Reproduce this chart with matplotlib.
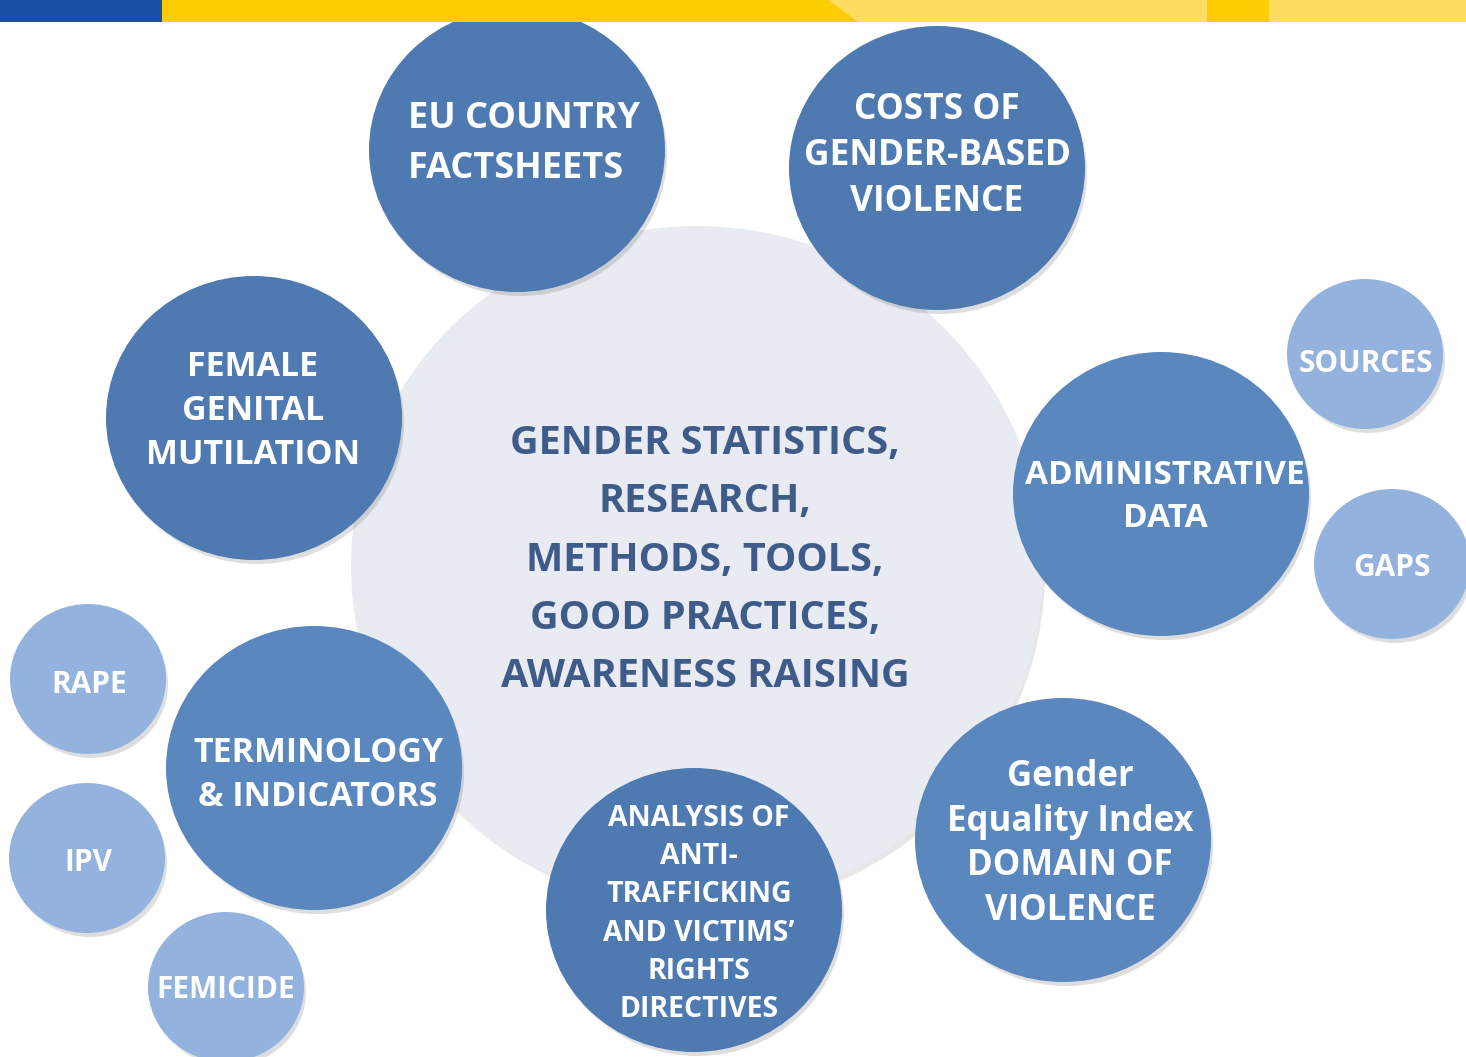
"""Bubble diagram: gender statistics topics around a central theme."""

import matplotlib.pyplot as plt
from matplotlib.patches import Ellipse, Polygon, Rectangle

W, H = 1466, 1057

# central theme
CENTER_LABEL = "GENDER STATISTICS,\nRESEARCH,\nMETHODS, TOOLS,\nGOOD PRACTICES,\nAWARENESS RAISING"

# main topic bubbles
MAIN_LABELS = [
    "EU COUNTRY\nFACTSHEETS",
    "COSTS OF\nGENDER-BASED\nVIOLENCE",
    "FEMALE\nGENITAL\nMUTILATION",
    "ADMINISTRATIVE\nDATA",
    "TERMINOLOGY\n& INDICATORS",
    "ANALYSIS OF\nANTI-\nTRAFFICKING\nAND VICTIMS\u2019\nRIGHTS\nDIRECTIVES",
    "Gender\nEquality Index\nDOMAIN OF\nVIOLENCE",
]

# satellite bubbles
SMALL_LABELS = ["SOURCES", "GAPS", "RAPE", "IPV", "FEMICIDE"]

# layout (pixel coordinates, y downwards)
CENTER_XY, CENTER_R = (697, 566), (346, 340)
MAIN_XY = [(517, 150), (937, 168), (254, 418), (1161, 494), (314, 768), (694, 910), (1063, 840)]
MAIN_TEXT_XY = [(408, 144), (937, 156), (253, 411), (1165, 497), (318, 775), (699, 914), (1070, 844)]
MAIN_HA = ["left", "center", "center", "center", "center", "center", "center"]
MAIN_FS = [26, 25.5, 24.5, 24, 24.5, 20.5, 25]
MAIN_LS = [1.55, 1.38, 1.4, 1.37, 1.4, 1.42, 1.33]
MAIN_COLORS = ["#4e79b1", "#4e79b1", "#4e79b1", "#5a87be", "#5a87be", "#4e79b1", "#5a87be"]
MAIN_R = (148, 142)
SMALL_XY = [(1365, 354), (1392, 564), (88, 679), (87, 858), (226, 987)]
SMALL_TEXT_XY = [(1366, 364), (1392, 568), (89, 685), (88, 863), (226, 990)]
SMALL_R = (78, 75)
SMALL_FS = 21.5

DARK_TEXT = "#3f5b8a"
LIGHT = "#93b3de"
CENTER_FILL = "#e8ecf2"
FONT = "Open Sans"


def bubble(ax, xy, r, color, shadow=0.22):
    cx, cy = xy
    for k, a in enumerate((0.05, 0.06, 0.07)):
        ax.add_patch(Ellipse((cx + 2 + k, cy + 4 + k), 2 * r[0] - 2 * k, 2 * r[1] - 2 * k,
                             facecolor="#404040", edgecolor="none", alpha=a * shadow / 0.22))
    ax.add_patch(Ellipse((cx, cy), 2 * r[0], 2 * r[1], facecolor=color, edgecolor="none"))


fig = plt.figure(figsize=(W / 100, H / 100), dpi=100)
ax = fig.add_axes([0, 0, 1, 1])
ax.set_xlim(0, W)
ax.set_ylim(H, 0)
ax.axis("off")

# central circle
bubble(ax, CENTER_XY, CENTER_R, CENTER_FILL, shadow=0.15)
ax.text(CENTER_XY[0] + 8, 560, CENTER_LABEL, ha="center", va="center", fontsize=28.5,
        fontweight="bold", color=DARK_TEXT, family=FONT, linespacing=1.64)

for label, xy, txy, ha, fs, ls, color in zip(MAIN_LABELS, MAIN_XY, MAIN_TEXT_XY, MAIN_HA,
                                             MAIN_FS, MAIN_LS, MAIN_COLORS):
    bubble(ax, xy, MAIN_R, color)
    ax.text(*txy, label, ha=ha, va="center", multialignment=ha, fontsize=fs, fontweight="bold",
            color="white", family=FONT, linespacing=ls)

for label, xy, txy in zip(SMALL_LABELS, SMALL_XY, SMALL_TEXT_XY):
    bubble(ax, xy, SMALL_R, LIGHT)
    ax.text(*txy, label, ha="center", va="center", fontsize=SMALL_FS,
            fontweight="bold", color="white", family=FONT)

# top banner
ax.add_patch(Rectangle((0, 0), W, 22, facecolor="#fedc5f", edgecolor="none", zorder=5))
ax.add_patch(Polygon([(162, 0), (828, 0), (858, 22), (162, 22)], facecolor="#fccd00", edgecolor="none", zorder=5))
ax.add_patch(Rectangle((1207, 0), 62, 22, facecolor="#fccd00", edgecolor="none", zorder=5))
ax.add_patch(Rectangle((0, 0), 162, 22, facecolor="#1b4fa3", edgecolor="none", zorder=6))

fig.savefig("out.png", dpi=100, facecolor="white")
